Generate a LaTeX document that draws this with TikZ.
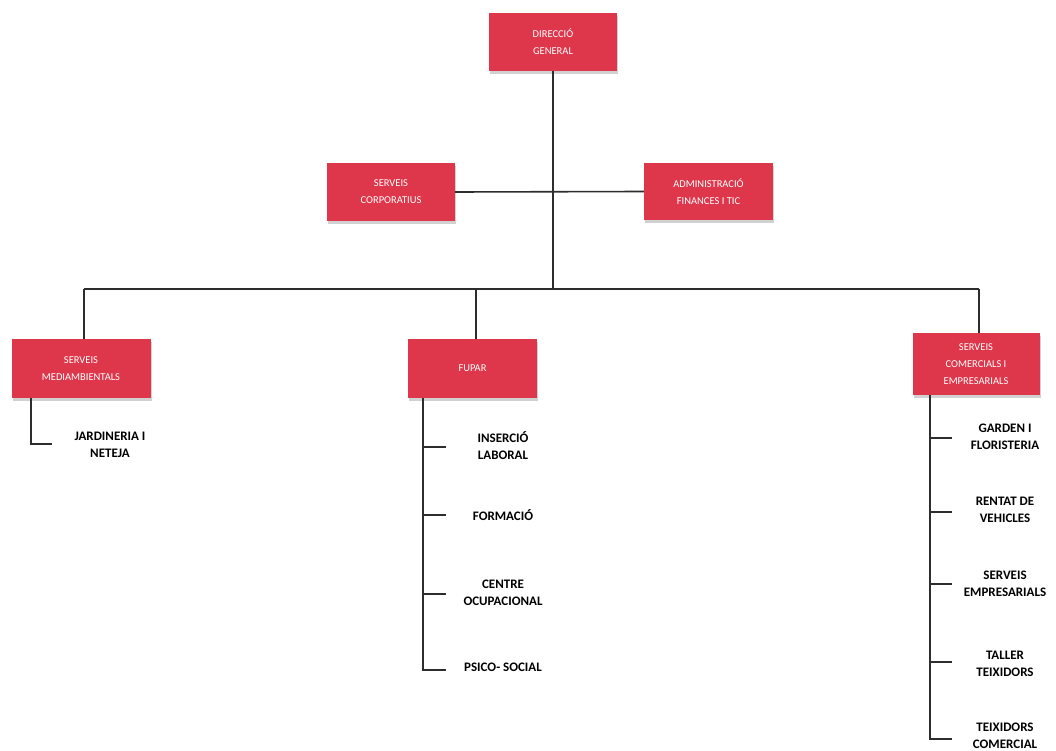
\documentclass[tikz,border=0pt]{standalone}
\usepackage{fontspec}
\setmainfont{Carlito}
\usetikzlibrary{shadows}
\definecolor{boxred}{RGB}{222,55,75}
\definecolor{linegray}{RGB}{45,45,45}
\begin{document}
\begin{tikzpicture}[x=1pt,y=-1pt,
  orgbox/.style={fill=boxred, draw=none, text=white, align=center,
    inner sep=0pt, font=\fontsize{10.5}{17}\selectfont,
    drop shadow={shadow xshift=1pt, shadow yshift=-3pt, opacity=0.18, fill=black}},
  leaf/.style={align=center, inner sep=0pt, font=\fontsize{13}{17}\selectfont\bfseries},
  conn/.style={draw=linegray, line width=1.6pt}]
\useasboundingbox[fill=white] (0,0) rectangle (1056,751);

% boxes
\node[orgbox, minimum width=128pt, minimum height=58pt] (dg) at (553,42) {DIRECCIÓ\\GENERAL};
\node[orgbox, minimum width=128pt, minimum height=58pt] (sc) at (391,192) {SERVEIS\\CORPORATIUS};
\node[orgbox, minimum width=129pt, minimum height=57pt] (af) at (708.5,191.5) {ADMINISTRACIÓ\\FINANCES I TIC};
\node[orgbox, minimum width=139pt, minimum height=59pt] (sm) at (81,368.5) {SERVEIS\\MEDIAMBIENTALS};
\node[orgbox, minimum width=129pt, minimum height=59pt] (fu) at (472.5,368.5) {FUPAR};
\node[orgbox, minimum width=127pt, minimum height=62pt] (se) at (976,364) {SERVEIS\\COMERCIALS I\\EMPRESARIALS};

% leaves
\node[leaf] (jn) at (110,445) {JARDINERIA I\\NETEJA};
\node[leaf] (il) at (503,446) {INSERCIÓ\\LABORAL};
\node[leaf] (fo) at (503,515) {FORMACIÓ};
\node[leaf] (co) at (503,593) {CENTRE\\OCUPACIONAL};
\node[leaf] (ps) at (503,667) {PSICO- SOCIAL};
\node[leaf] (gf) at (1005,437) {GARDEN I\\FLORISTERIA};
\node[leaf] (rv) at (1005,510) {RENTAT DE\\VEHICLES};
\node[leaf] (sv) at (1005,584) {SERVEIS\\EMPRESARIALS};
\node[leaf] (tt) at (1005,664) {TALLER\\TEIXIDORS};
\node[leaf] (tc) at (1005,736) {TEIXIDORS\\COMERCIAL};

% junction coordinates
\coordinate (jt) at (553,289);
\coordinate (b1) at (84,289);
\coordinate (b2) at (476,289);
\coordinate (b3) at (979,289);

% upper connectors
\draw[conn] (dg.south) -- (jt);
\draw[conn] (sc.east) -- (af.west);
\draw[conn] (b1) -- (b3);
\draw[conn] (b1) -- (b1 |- sm.north);
\draw[conn] (b2) -- (b2 |- fu.north);
\draw[conn] (b3) -- (b3 |- se.north);

% SERVEIS MEDIAMBIENTALS branch
\coordinate (m0) at (31,398);
\coordinate (m1) at (52,444);
\draw[conn] (m0) |- (m1);

% FUPAR branch
\coordinate (f0) at (423,398);
\coordinate (f1) at (446,447);
\coordinate (f2) at (446,515);
\coordinate (f3) at (446,594);
\coordinate (f4) at (446,670);
\draw[conn] (f0) |- (f4);
\draw[conn] (f0 |- f1) -- (f1);
\draw[conn] (f0 |- f2) -- (f2);
\draw[conn] (f0 |- f3) -- (f3);

% SERVEIS COMERCIALS branch
\coordinate (s0) at (930,395);
\coordinate (s1) at (952,438);
\coordinate (s2) at (952,512);
\coordinate (s3) at (952,584);
\coordinate (s4) at (952,662);
\coordinate (s5) at (952,739);
\draw[conn] (s0) |- (s5);
\draw[conn] (s0 |- s1) -- (s1);
\draw[conn] (s0 |- s2) -- (s2);
\draw[conn] (s0 |- s3) -- (s3);
\draw[conn] (s0 |- s4) -- (s4);
\end{tikzpicture}
\end{document}
